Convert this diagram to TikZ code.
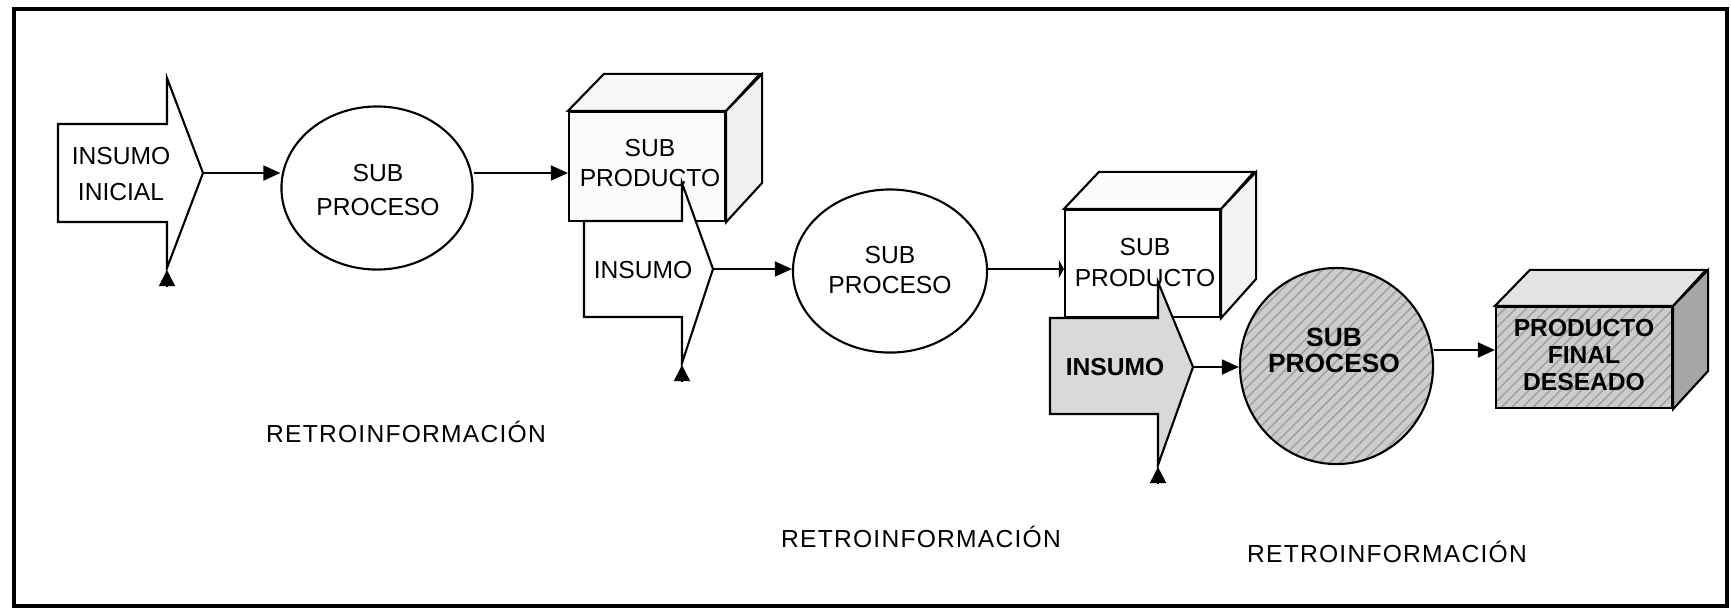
\documentclass[tikz,border=0pt]{standalone}
\usepackage{fontspec}
\setmainfont{Liberation Sans}
\usetikzlibrary{arrows.meta, shapes.geometric, patterns}

\tikzset{
  txt/.style={font=\fontsize{7pt}{8.6pt}\selectfont, align=center},
  boldtxt/.style={font=\fontsize{7pt}{7.6pt}\selectfont\bfseries, align=center},
  retro/.style={font=\fontsize{7pt}{8pt}\selectfont\addfontfeatures{LetterSpace=5}, anchor=base},
  proc/.style={ellipse, draw, line width=0.6pt, inner sep=0pt},
  face/.style={draw, line width=0.6pt, inner sep=0pt, line join=miter},
  inshape/.style={draw, line width=0.6pt, line join=miter},
  hatch/.style={preaction={fill=gray!40}, pattern=north east lines, pattern color=gray!75},
  flow/.style={-{Triangle[length=0.17cm, width=0.15cm]}, line width=0.5pt},
  stub/.style={-{Triangle[length=0.05cm, width=0.18cm]}, line width=0.5pt},
  fbtip/.style={-{Triangle[length=0.16cm, width=0.16cm]}, line width=0.5pt},
}

\begin{document}
\begin{tikzpicture}[x=0.01cm, y=-0.01cm]
  \useasboundingbox (0,0) rectangle (1731,611);
  \draw[line width=1.2pt] (14,9) rectangle (1727,606);

  % first stage
  \filldraw[inshape, fill=white] (58,124) -- (167,124) -- (167,78) -- (203,173)
    -- (167,268) -- (167,222) -- (58,222) -- cycle;
  \coordinate (pA) at (203,173);
  \node[txt, font=\fontsize{7pt}{10pt}\selectfont] (insA) at (121,174) {INSUMO\\INICIAL};
  \node[proc, minimum width=1.91cm, minimum height=1.63cm] (procA) at (377,188) {};
  \node[txt, font=\fontsize{7pt}{9.6pt}\selectfont] (procAtext) at (378,190) {SUB\\PROCESO};
  \node[face, fill=gray!3, minimum width=1.56cm, minimum height=1.09cm] (cubeA) at (647,166.5) {};
  \filldraw[face, fill=gray!6] (cubeA.north west) -- ++(36,-37) -- ++(156,0) -- (cubeA.north east) -- cycle;
  \filldraw[face, fill=gray!12] (cubeA.north east) -- ++(36,-37) -- ++(0,109) -- (cubeA.south east) -- cycle;
  \node[txt] (cubeAtext) at (650,163) {SUB\\PRODUCTO};
  \coordinate (fbA) at (167,287);
  \draw[fbtip] (fbA) -- ++(0,-17);
  \draw[flow] (pA) -- (pA -| procA.west);
  \draw[flow] (procA.east |- pA) -- (cubeA.west |- pA);

  % second stage
  \filldraw[inshape, fill=white] (584,221) -- (682,221) -- (682,183) -- (713,269)
    -- (682,363) -- (682,317) -- (584,317) -- cycle;
  \coordinate (pB) at (713,269);
  \node[txt] (insB) at (643,270) {INSUMO};
  \node[proc, minimum width=1.94cm, minimum height=1.63cm] (procB) at (890,271) {};
  \node[txt] (procBtext) at (890,270) {SUB\\PROCESO};
  \node[face, fill=white, minimum width=1.55cm, minimum height=1.07cm] (cubeB) at (1142.5,263.5) {};
  \filldraw[face, fill=gray!3] (cubeB.north west) -- ++(35,-37) -- ++(155,0) -- (cubeB.north east) -- cycle;
  \filldraw[face, fill=gray!10] (cubeB.north east) -- ++(35,-37) -- ++(0,107) -- (cubeB.south east) -- cycle;
  \node[txt] (cubeBtext) at (1145,262.5) {SUB\\PRODUCTO};
  \coordinate (fbB) at (682,381);
  \draw[fbtip] (fbB) -- ++(0,-16);
  \draw[flow] (pB) -- (pB -| procB.west);
  \draw[stub] (procB.east |- pB) -- (cubeB.west |- pB);

  % last stage
  \filldraw[inshape, fill=gray!30] (1050,318) -- (1158,318) -- (1158,282) -- (1193,367)
    -- (1158,465) -- (1158,414) -- (1050,414) -- cycle;
  \coordinate (pC) at (1193,367);
  \node[boldtxt] (insC) at (1115,367) {INSUMO};
  \node[proc, hatch, minimum width=1.93cm, minimum height=1.96cm] (procC) at (1336.5,366) {};
  \node[boldtxt, font=\fontsize{7.5pt}{7.4pt}\selectfont\bfseries] (procCtext) at (1334,350) {SUB\\PROCESO};
  \node[face, hatch, minimum width=1.76cm, minimum height=1.01cm] (cubeD) at (1584,357.5) {};
  \filldraw[face, fill=gray!22] (cubeD.north west) -- ++(35,-36) -- ++(176,0) -- (cubeD.north east) -- cycle;
  \filldraw[face, fill=gray!70] (cubeD.north east) -- ++(35,-36) -- ++(0,101) -- (cubeD.south east) -- cycle;
  \node[boldtxt] (cubeDtext) at (1584,355) {PRODUCTO\\FINAL\\DESEADO};
  \coordinate (fbC) at (1158,483);
  \draw[fbtip] (fbC) -- ++(0,-16);
  \draw[flow] (pC) -- (pC -| procC.west);
  \draw[flow] (procCtext -| procC.east) -- (procCtext -| cubeD.west);

  \node[retro] (retroA) at (406,442) {RETROINFORMACIÓN};
  \node[retro] (retroB) at (921,547) {RETROINFORMACIÓN};
  \node[retro] (retroC) at (1387,562) {RETROINFORMACIÓN};
\end{tikzpicture}
\end{document}
